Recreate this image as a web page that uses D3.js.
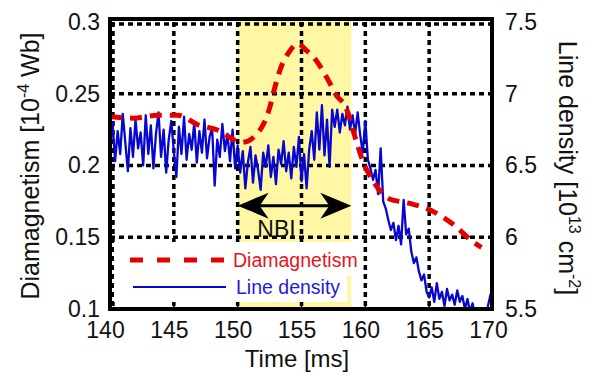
<!DOCTYPE html>
<html>
<head>
<meta charset="utf-8">
<script src="https://cdn.jsdelivr.net/npm/d3@7"></script>
<style>
  html, body { margin: 0; padding: 0; background: #fff; }
  svg { display: block; font-family: "Liberation Sans", Arial, sans-serif; }
</style>
</head>
<body>
<div id="chart"></div>
<script>
// --- data
const timeTicks = [140, 145, 150, 155, 160, 165, 170];
const diaTicks = [0.1, 0.15, 0.2, 0.25, 0.3];
const diaTickLabels = ['0.1', '0.15', '0.2', '0.25', '0.3'];
const densTicks = [5.5, 6, 6.5, 7, 7.5];
const densTickLabels = ['5.5', '6', '6.5', '7', '7.5'];

// NBI pulse window [ms]
const nbiWindow = [150, 158.9];

// diamagnetism (red dashed), [time ms, 1e-4 Wb]
const diaTime = [140.0, 141.8, 143.7, 145.3, 147.0, 148.6, 149.5, 150.2, 150.8, 151.5, 152.0, 152.5,
  152.9, 153.4, 154.1, 154.7, 155.4, 156.0, 157.0, 157.8, 158.4, 159.3, 159.8, 160.6,
  161.9, 163.3, 165.2, 166.9, 168.6, 169.1];
const diaValue = [0.234, 0.233, 0.235, 0.235, 0.228, 0.224, 0.219, 0.216, 0.217, 0.222, 0.2285, 0.240,
  0.254, 0.2686, 0.280, 0.285, 0.280, 0.275, 0.261, 0.248, 0.242, 0.2167, 0.2033, 0.1892,
  0.1767, 0.174, 0.1684, 0.1588, 0.1457, 0.143];

// line density (blue), sampled every 0.2 ms from 140 ms, [1e13 cm^-2]
const densStart = 140, densStep = 0.2;
const densValue = [
  6.62, 6.80, 6.53, 6.74, 6.58, 6.86, 6.66, 6.46, 6.76, 6.56,
  6.82, 6.62, 6.73, 6.50, 6.85, 6.58, 6.78, 6.48, 6.72, 6.87,
  6.56, 6.75, 6.45, 6.68, 6.81, 6.60, 6.42, 6.77, 6.58, 6.84,
  6.54, 6.72, 6.61, 6.80, 6.52, 6.74, 6.59, 6.82, 6.55, 6.70,
  6.76, 6.36, 6.68, 6.56, 6.79, 6.60, 6.72, 6.53, 6.75, 6.48,
  6.64,
  6.45, 6.60, 6.34, 6.52, 6.63, 6.38, 6.57, 6.47, 6.33, 6.59,
  6.49, 6.64, 6.42, 6.56, 6.37, 6.61, 6.51, 6.67, 6.46, 6.59,
  6.41, 6.63, 6.49, 6.70, 6.39, 6.58, 6.34, 6.61,
  6.74, 6.54, 6.87, 6.61, 6.92, 6.57, 6.82, 6.49, 6.89,
  6.77, 6.89, 6.73, 6.86, 6.78, 6.91, 6.75, 6.85, 6.72, 6.87,
  6.71, 6.59, 6.81, 6.54, 6.48,
  6.40, 6.47, 6.30,
  6.62, 6.25, 6.20, 6.12, 6.05,
  6.10, 5.98, 6.08, 5.95, 6.26,
  6.02, 6.06, 5.90, 5.82, 5.86,
  5.76, 5.70, 5.74, 5.62, 5.58,
  5.65, 5.55, 5.68, 5.57, 5.62, 5.52, 5.64, 5.56, 5.60, 5.53,
  5.63, 5.55, 5.59, 5.50, 5.57,
  5.48, 5.54, 5.45, 5.50, 5.43, 5.47, 5.42, 5.52, 5.60, 5.46
];

const width = 594, height = 376;
const plot = { left: 110, right: 493, top: 22, bottom: 309 };

const svg = d3.select('#chart').append('svg')
  .attr('width', width).attr('height', height);

const x = d3.scaleLinear().domain([140, 170]).range([plot.left, plot.right]);
const yL = d3.scaleLinear().domain([0.1, 0.3]).range([plot.bottom, plot.top]);
const yR = d3.scaleLinear().domain([5.5, 7.5]).range([plot.bottom, plot.top]);

svg.append('defs').append('clipPath').attr('id', 'plotClip')
  .append('rect')
  .attr('x', plot.left).attr('y', plot.top - 3)
  .attr('width', plot.right - plot.left).attr('height', plot.bottom - plot.top + 3);

// --- NBI band
svg.append('rect')
  .attr('x', x(nbiWindow[0])).attr('y', plot.top - 3)
  .attr('width', x(nbiWindow[1]) - x(nbiWindow[0]))
  .attr('height', plot.bottom - plot.top + 3)
  .attr('fill', '#fff7a3');

// --- dashed grid
const grid = svg.append('g').attr('stroke', '#000').attr('stroke-width', 3.5)
  .attr('stroke-dasharray', '5,4');
grid.selectAll('line.v').data(timeTicks.slice(0, -1)).join('line')
  .attr('class', 'v')
  .attr('x1', d => x(d) + (d === 140 ? 3 : 0)).attr('x2', d => x(d) + (d === 140 ? 3 : 0))
  .attr('y1', plot.top).attr('y2', plot.bottom);
grid.selectAll('line.h').data(diaTicks.slice(1)).join('line')
  .attr('class', 'h')
  .attr('x1', plot.left).attr('x2', plot.right)
  .attr('y1', d => yL(d) + (d === 0.3 ? 2 : 0)).attr('y2', d => yL(d) + (d === 0.3 ? 2 : 0));

// --- curves
const plotG = svg.append('g').attr('clip-path', 'url(#plotClip)');

const densData = densValue.map((v, i) => ({ t: densStart + i * densStep, v }));
plotG.append('path')
  .datum(densData)
  .attr('fill', 'none').attr('stroke', '#0707d0').attr('stroke-width', 2.3)
  .attr('stroke-linejoin', 'round')
  .attr('d', d3.line().x(d => x(d.t)).y(d => yR(d.v)));

const diaData = diaTime.map((t, i) => ({ t, v: diaValue[i] }));
plotG.append('path')
  .datum(diaData)
  .attr('fill', 'none').attr('stroke', '#e50000').attr('stroke-width', 5)
  .attr('stroke-dasharray', '12,8')
  .attr('d', d3.line().curve(d3.curveMonotoneX).x(d => x(d.t)).y(d => yL(d.v)));

// --- legend (white text boxes over the grid)
svg.append('rect').attr('x', 114).attr('y', 242).attr('width', 243).attr('height', 34).attr('fill', '#fff');
svg.append('rect').attr('x', 114).attr('y', 275).attr('width', 233).attr('height', 27).attr('fill', '#fff');

svg.append('line').attr('x1', 130).attr('x2', 224).attr('y1', 260).attr('y2', 260)
  .attr('stroke', '#e50000').attr('stroke-width', 5).attr('stroke-dasharray', '13,14');
svg.append('text').attr('x', 233).attr('y', 267).attr('fill', '#e8141c')
  .attr('font-size', 19.5).text('Diamagnetism');
svg.append('line').attr('x1', 133).attr('x2', 226).attr('y1', 287).attr('y2', 287)
  .attr('stroke', '#0707d0').attr('stroke-width', 2);
svg.append('text').attr('x', 236).attr('y', 294).attr('fill', '#1d1de0')
  .attr('font-size', 19.5).text('Line density');

// --- small inward ticks on bottom edge
svg.append('g').selectAll('line').data(timeTicks.slice(1, -1)).join('line')
  .attr('x1', d => x(d)).attr('x2', d => x(d))
  .attr('y1', plot.bottom).attr('y2', plot.bottom - 7)
  .attr('stroke', '#000').attr('stroke-width', 1.5);

// --- NBI arrow
const arrowY = yL(0.172);
const ax0 = x(nbiWindow[0]), ax1 = x(nbiWindow[1]);
svg.append('line').attr('x1', ax0 + 15).attr('x2', ax1 - 15)
  .attr('y1', arrowY).attr('y2', arrowY).attr('stroke', '#000').attr('stroke-width', 3);
const head = (tipX, dir) => `M${tipX},${arrowY} L${tipX + dir * 31},${arrowY - 13} ` +
  `L${tipX + dir * 22},${arrowY} L${tipX + dir * 31},${arrowY + 13} Z`;
svg.append('path').attr('d', head(ax0, 1)).attr('fill', '#000');
svg.append('path').attr('d', head(ax1, -1)).attr('fill', '#000');
svg.append('text').attr('x', (ax0 + ax1) / 2 - 18).attr('y', yL(0.1555))
  .attr('text-anchor', 'middle').attr('dominant-baseline', 'central')
  .attr('font-size', 23).attr('fill', '#111').text('NBI');

// --- frame
svg.append('rect')
  .attr('x', plot.left).attr('y', plot.top - 3)
  .attr('width', plot.right - 1 - plot.left).attr('height', plot.bottom - plot.top + 3)
  .attr('fill', 'none').attr('stroke', '#000').attr('stroke-width', 4);

// --- axes
const styleAxis = g => {
  g.select('.domain').remove();
  g.selectAll('.tick line').remove();
  g.selectAll('text').attr('font-size', 23).attr('fill', '#111')
    .attr('font-family', '"Liberation Sans", Arial, sans-serif');
};

svg.append('g').attr('transform', `translate(${plot.left},0)`)
  .call(d3.axisLeft(yL).tickValues(diaTicks).tickSize(0).tickPadding(10)
    .tickFormat((d, i) => diaTickLabels[i]))
  .call(styleAxis);

svg.append('g').attr('transform', `translate(${plot.right},0)`)
  .call(d3.axisRight(yR).tickValues(densTicks).tickSize(0).tickPadding(12)
    .tickFormat((d, i) => densTickLabels[i]))
  .call(styleAxis);

svg.append('g').attr('transform', `translate(-5,${plot.bottom})`)
  .call(d3.axisBottom(x).tickValues(timeTicks).tickSize(0).tickPadding(13)
    .tickFormat(d3.format('d')))
  .call(styleAxis);

// --- axis titles
const leftTitle = svg.append('text')
  .attr('transform', 'translate(39,166) rotate(-90)')
  .attr('text-anchor', 'middle').attr('font-size', 25).attr('fill', '#111');
leftTitle.append('tspan').text('Diamagnetism [10');
leftTitle.append('tspan').attr('dy', -10).attr('font-size', 16).text('-4');
leftTitle.append('tspan').attr('dy', 10).text(' Wb]');

const rightTitle = svg.append('text')
  .attr('transform', 'translate(559,168) rotate(90)')
  .attr('text-anchor', 'middle').attr('font-size', 25).attr('fill', '#111');
rightTitle.append('tspan').text('Line density [10');
rightTitle.append('tspan').attr('dy', -10).attr('font-size', 16).text('13');
rightTitle.append('tspan').attr('dy', 10).text(' cm');
rightTitle.append('tspan').attr('dy', -10).attr('font-size', 16).text('-2');
rightTitle.append('tspan').attr('dy', 10).text(']');

svg.append('text').attr('x', 297).attr('y', 367)
  .attr('text-anchor', 'middle').attr('font-size', 24).attr('fill', '#111')
  .text('Time [ms]');
</script>
</body>
</html>
